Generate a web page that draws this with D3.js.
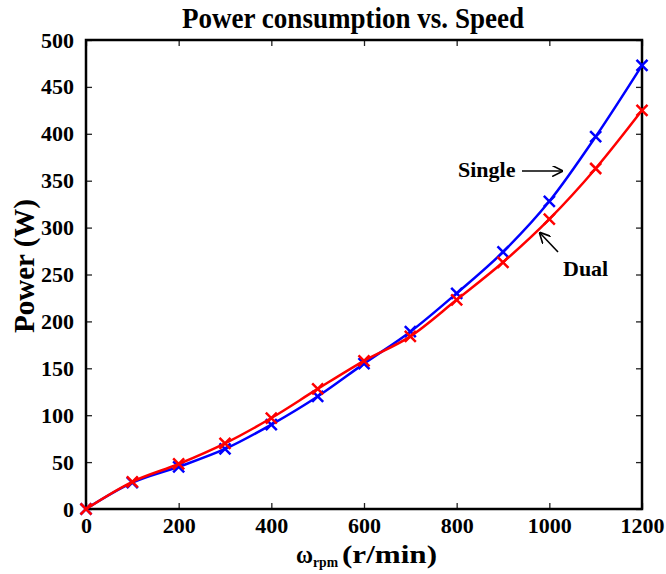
<!DOCTYPE html>
<html>
<head>
<meta charset="utf-8">
<script src="https://d3js.org/d3.v7.min.js"></script>
<style>
	body { margin: 0; background: #fff; }
	svg text { font-family: 'Liberation Serif', 'Times New Roman', serif; font-weight: bold; fill: #000; }
</style>
</head>
<body>
<svg id="chart" width="666" height="574"></svg>
<script>
var speeds = [0, 100, 200, 300, 400, 500, 600, 700, 800, 900, 1000, 1100, 1200];
var singlePower = [0, 28, 45, 64, 90, 120, 155, 189, 230, 274, 328, 397, 473];
var dualPower = [0, 29, 48, 70, 97, 128, 158, 184, 223, 263, 309, 363, 425];
var xTicks = [0, 200, 400, 600, 800, 1000, 1200];
var yTicks = [0, 50, 100, 150, 200, 250, 300, 350, 400, 450, 500];

var svg = d3.select('#chart'),
	margin = { top: 40, right: 24, bottom: 65, left: 86 },
	width = 666 - margin.left - margin.right,
	height = 574 - margin.top - margin.bottom;

var x = d3.scaleLinear().domain([0, 1200]).range([0, width]);
var y = d3.scaleLinear().domain([0, 500]).range([height, 0]);

var g = svg.append('g').attr('transform', 'translate(' + margin.left + ',' + margin.top + ')');

// inward ticks on all four sides
g.append('g').attr('transform', 'translate(0,' + height + ')')
	.call(d3.axisBottom(x).tickValues(xTicks).tickSizeInner(-6).tickSizeOuter(0).tickPadding(8).tickFormat(d3.format('d')));
g.append('g')
	.call(d3.axisTop(x).tickValues(xTicks).tickSizeInner(-6).tickSizeOuter(0).tickFormat(''));
g.append('g')
	.call(d3.axisLeft(y).tickValues(yTicks).tickSizeInner(-6).tickSizeOuter(0).tickPadding(12));
g.append('g').attr('transform', 'translate(' + width + ',0)')
	.call(d3.axisRight(y).tickValues(yTicks).tickSizeInner(-6).tickSizeOuter(0).tickFormat(''));

g.selectAll('.domain').remove();
g.selectAll('.tick line').attr('stroke', '#222').attr('stroke-width', 1.3);
g.selectAll('.tick text').style('font-size', '22px');

g.append('rect')
	.attr('width', width)
	.attr('height', height)
	.attr('fill', 'none')
	.attr('stroke', '#000')
	.attr('stroke-width', 2.5);

var series = [
	{ name: 'Single', values: singlePower, color: '#0000ff' },
	{ name: 'Dual', values: dualPower, color: '#ff0000' }
];

var line = d3.line()
	.x(function(d, i) { return x(speeds[i]); })
	.y(function(d) { return y(d); })
	.curve(d3.curveMonotoneX);

series.forEach(function(s) {
	g.append('path')
		.datum(s.values)
		.attr('fill', 'none')
		.attr('stroke', s.color)
		.attr('stroke-width', 2.5)
		.attr('d', line);

	var r = 5.5;
	g.selectAll('.mk-' + s.name)
		.data(s.values)
		.enter()
		.append('path')
		.attr('class', 'mk-' + s.name)
		.attr('d', function(d, i) {
			var cx = x(speeds[i]), cy = y(d);
			return 'M' + (cx - r) + ',' + (cy - r) + 'L' + (cx + r) + ',' + (cy + r) +
				'M' + (cx - r) + ',' + (cy + r) + 'L' + (cx + r) + ',' + (cy - r);
		})
		.attr('stroke', s.color)
		.attr('stroke-width', 2.5);
});

// annotations
svg.append('defs').append('marker')
	.attr('id', 'arrow')
	.attr('viewBox', '0 0 10 10')
	.attr('refX', 9).attr('refY', 5)
	.attr('markerWidth', 11).attr('markerHeight', 11)
	.attr('markerUnits', 'userSpaceOnUse')
	.attr('orient', 'auto')
	.append('path')
	.attr('d', 'M0,0L10,5L0,10')
	.attr('fill', 'none')
	.attr('stroke', '#000')
	.attr('stroke-width', 1.5);

svg.append('text').attr('x', 458).attr('y', 177).style('font-size', '22px').text('Single');
svg.append('line').attr('x1', 522).attr('y1', 171).attr('x2', 562).attr('y2', 171)
	.attr('stroke', '#000').attr('stroke-width', 1.6).attr('marker-end', 'url(#arrow)');
svg.append('text').attr('x', 563).attr('y', 276).style('font-size', '22px').text('Dual');
svg.append('line').attr('x1', 558).attr('y1', 252).attr('x2', 540).attr('y2', 233)
	.attr('stroke', '#000').attr('stroke-width', 1.6).attr('marker-end', 'url(#arrow)');

// titles
svg.append('text')
	.attr('x', 182).attr('y', 28)
	.attr('textLength', 342).attr('lengthAdjust', 'spacingAndGlyphs')
	.style('font-size', '30px')
	.text('Power consumption vs. Speed');

svg.append('text')
	.attr('transform', 'translate(34,266) rotate(-90)')
	.attr('text-anchor', 'middle')
	.style('font-size', '29px')
	.text('Power (W)');

svg.append('text')
	.attr('x', 296).attr('y', 563)
	.attr('textLength', 17).attr('lengthAdjust', 'spacingAndGlyphs')
	.style('font-size', '25px')
	.text('\u03c9');
svg.append('text')
	.attr('x', 313).attr('y', 567)
	.attr('textLength', 25).attr('lengthAdjust', 'spacingAndGlyphs')
	.style('font-size', '14px')
	.text('rpm');
svg.append('text')
	.attr('x', 342).attr('y', 563)
	.attr('textLength', 95).attr('lengthAdjust', 'spacingAndGlyphs')
	.style('font-size', '26px')
	.text('(r/min)');
</script>
</body>
</html>
